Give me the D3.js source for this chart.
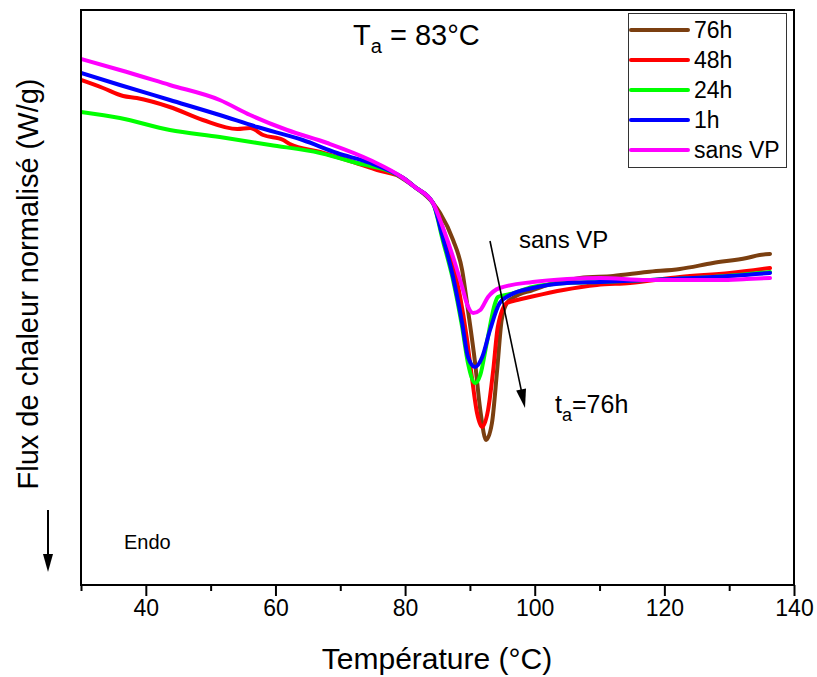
<!DOCTYPE html>
<html>
<head>
<meta charset="utf-8">
<script src="https://cdn.jsdelivr.net/npm/d3@7"></script>
<style>
  html, body { margin: 0; padding: 0; background: #fff; }
  svg { display: block; }
  text { font-family: "Liberation Sans", Arial, sans-serif; fill: #000; }
</style>
</head>
<body>
<svg id="chart" width="817" height="677"></svg>
<script>
// ---- Data (temperature °C, normalized heat flow, arbitrary units) ----
const seriesNames = ["76h", "48h", "24h", "1h", "sans VP"];
const seriesColors = ["#7B3F10", "#FF0000", "#00FF00", "#0000FF", "#FF00FF"];

const data76h = [
  [79.0, 8.18], [81.5, 7.96], [84.3, 7.64], [85.4, 7.44], [87.4, 6.90], [88.8, 6.30],
  [89.7, 5.50], [90.8, 4.44], [91.6, 3.50], [92.5, 2.90], [93.4, 3.24], [94.2, 4.30],
  [94.9, 5.30], [95.7, 5.64], [96.6, 5.74], [99.7, 5.90], [101.9, 6.00], [107.0, 6.14],
  [112.1, 6.18], [117.3, 6.26], [122.4, 6.32], [127.5, 6.44], [132.7, 6.54], [134.7, 6.60],
  [136.3, 6.62]
];
const data48h = [
  [30.0, 10.10], [33.4, 9.94], [36.5, 9.78], [38.6, 9.74], [43.7, 9.56], [48.8, 9.30],
  [54.1, 9.12], [56.1, 9.14], [58.1, 9.00], [61.2, 8.90], [62.2, 8.82], [66.9, 8.66],
  [72.0, 8.46], [75.7, 8.30], [79.7, 8.14], [81.5, 7.96], [84.3, 7.64], [86.9, 6.64],
  [88.5, 5.76], [89.5, 4.96], [90.3, 4.16], [91.1, 3.44], [91.9, 3.16], [92.8, 3.50],
  [93.6, 4.30], [94.3, 5.16], [95.7, 5.64], [97.3, 5.70], [99.3, 5.76], [104.4, 5.90],
  [109.6, 6.00], [114.7, 6.04], [122.4, 6.16], [130.1, 6.24], [136.3, 6.34]
];
const data24h = [
  [30.0, 9.46], [36.0, 9.34], [43.7, 9.10], [51.4, 8.96], [59.2, 8.80], [66.9, 8.64],
  [72.0, 8.46], [79.7, 8.14], [81.5, 7.96], [84.3, 7.64], [85.8, 6.90], [87.4, 6.10],
  [88.8, 5.16], [89.7, 4.44], [90.8, 4.04], [91.6, 4.20], [92.6, 4.84], [93.9, 5.64],
  [94.3, 5.76], [96.2, 5.82], [99.7, 5.96], [105.0, 6.04], [110.1, 6.06], [117.3, 6.10],
  [127.5, 6.16], [136.3, 6.26]
];
const data1h = [
  [30.0, 10.24], [36.0, 10.00], [43.7, 9.70], [51.4, 9.40], [57.2, 9.16], [64.2, 8.90],
  [69.5, 8.64], [74.6, 8.44], [79.7, 8.14], [81.5, 7.96], [84.3, 7.64], [85.8, 6.96],
  [87.4, 6.16], [88.8, 5.24], [89.7, 4.56], [90.8, 4.36], [91.9, 4.56], [93.1, 5.10],
  [94.6, 5.64], [96.2, 5.80], [99.7, 5.94], [105.0, 6.04], [110.1, 6.06], [117.3, 6.10],
  [127.5, 6.16], [136.3, 6.24]
];
const dataSansVP = [
  [30.0, 10.52], [36.0, 10.30], [43.7, 10.00], [51.4, 9.70], [56.1, 9.40], [61.8, 9.10],
  [68.0, 8.84], [74.6, 8.50], [79.7, 8.14], [81.5, 7.96], [84.3, 7.64], [85.8, 7.16],
  [87.4, 6.56], [88.8, 5.96], [89.5, 5.64], [90.5, 5.44], [91.6, 5.50], [92.8, 5.76],
  [94.6, 5.94], [99.7, 6.06], [105.0, 6.12], [110.1, 6.14], [117.3, 6.10], [122.4, 6.10],
  [128.6, 6.10], [132.7, 6.12], [136.3, 6.14]
];
const seriesData = [data76h, data48h, data24h, data1h, dataSansVP];

const xMajorTicks = [40, 60, 80, 100, 120, 140];
const xMinorTicks = [30, 50, 70, 90, 110, 130];
const xDomain = [30, 140];
const yDomain = [0, 11.5];

// ---- Layout ----
const svg = d3.select("#chart");
const pLeft = 81, pRight = 794, pTop = 10, pBottom = 585;
const x = d3.scaleLinear().domain(xDomain).range([pLeft, pRight]);
const y = d3.scaleLinear().domain(yDomain).range([pBottom, pTop]);

const defs = svg.append("defs");
defs.append("clipPath").attr("id", "clip")
  .append("rect").attr("x", pLeft).attr("y", pTop)
  .attr("width", pRight - pLeft).attr("height", pBottom - pTop);

// curves (drawn in legend order, last on top)
const line = d3.line().x(d => x(d[0])).y(d => y(d[1])).curve(d3.curveMonotoneX);
const gLines = svg.append("g").attr("clip-path", "url(#clip)");
seriesData.forEach((ds, i) => {
  gLines.append("path").datum(ds)
    .attr("d", line)
    .attr("fill", "none")
    .attr("stroke", seriesColors[i])
    .attr("stroke-width", 4)
    .attr("stroke-linejoin", "round")
    .attr("stroke-linecap", "round");
});

// bottom axis ticks
const axisMajor = d3.axisBottom(x).tickValues(xMajorTicks).tickSize(11).tickSizeOuter(0).tickPadding(4);
const gx = svg.append("g").attr("transform", `translate(0,${pBottom})`).call(axisMajor);
gx.select(".domain").remove();
gx.selectAll(".tick line").attr("stroke", "#000").attr("stroke-width", 2);
gx.selectAll(".tick text").attr("font-size", 23).attr("font-family", "Liberation Sans, Arial, sans-serif").attr("fill", "#000");

const axisMinor = d3.axisBottom(x).tickValues(xMinorTicks).tickSize(6).tickSizeOuter(0).tickFormat("");
const gxm = svg.append("g").attr("transform", `translate(0,${pBottom})`).call(axisMinor);
gxm.select(".domain").remove();
gxm.selectAll(".tick line").attr("stroke", "#000").attr("stroke-width", 2);

// frame
svg.append("rect").attr("x", pLeft).attr("y", pTop)
  .attr("width", pRight - pLeft).attr("height", pBottom - pTop)
  .attr("fill", "none").attr("stroke", "#000").attr("stroke-width", 2);

// axis titles
svg.append("text").attr("x", 437).attr("y", 669)
  .attr("text-anchor", "middle").attr("font-size", 30).text("Température (°C)");
svg.append("text").attr("transform", "translate(38,284) rotate(-90)")
  .attr("text-anchor", "middle").attr("font-size", 29).text("Flux de chaleur normalisé (W/g)");

// title T_a = 83°C
const title = svg.append("text").attr("x", 353).attr("y", 45).attr("font-size", 29);
title.append("tspan").text("T");
title.append("tspan").attr("font-size", 20).attr("dy", 8).text("a");
title.append("tspan").attr("dy", -8).text(" = 83°C");

// legend
const lg = svg.append("g");
lg.append("rect").attr("x", 628.5).attr("y", 13.5).attr("width", 158).attr("height", 154)
  .attr("fill", "#fff").attr("stroke", "#333").attr("stroke-width", 1);
seriesNames.forEach((name, i) => {
  const yy = 30 + i * 30;
  lg.append("line").attr("x1", 631).attr("x2", 688).attr("y1", yy).attr("y2", yy)
    .attr("stroke", seriesColors[i]).attr("stroke-width", 4).attr("stroke-linecap", "round");
  lg.append("text").attr("x", 694).attr("y", yy + 8).attr("font-size", 23).text(name);
});

// arrow helper: line with filled triangular head
function arrow(x1, y1, x2, y2, w, headLen, headHalf) {
  const dx = x2 - x1, dy = y2 - y1, L = Math.hypot(dx, dy);
  const ux = dx / L, uy = dy / L;
  const bx = x2 - ux * headLen, by = y2 - uy * headLen;
  svg.append("line").attr("x1", x1).attr("y1", y1).attr("x2", bx + ux * 2).attr("y2", by + uy * 2)
    .attr("stroke", "#000").attr("stroke-width", w);
  svg.append("path")
    .attr("d", `M${x2},${y2} L${bx - uy * headHalf},${by + ux * headHalf} L${bx + uy * headHalf},${by - ux * headHalf} Z`)
    .attr("fill", "#000");
}

// annotation arrow
arrow(490, 241, 525, 408, 1.6, 19, 5);
svg.append("text").attr("x", 519).attr("y", 248).attr("font-size", 24).text("sans VP");
const ta = svg.append("text").attr("x", 555).attr("y", 413).attr("font-size", 25);
ta.append("tspan").text("t");
ta.append("tspan").attr("font-size", 18).attr("dy", 8).text("a");
ta.append("tspan").attr("dy", -8).text("=76h");

// Endo arrow
arrow(48, 510, 48, 572, 2, 18, 5);
svg.append("text").attr("x", 124).attr("y", 549).attr("font-size", 20).text("Endo");
</script>
</body>
</html>
